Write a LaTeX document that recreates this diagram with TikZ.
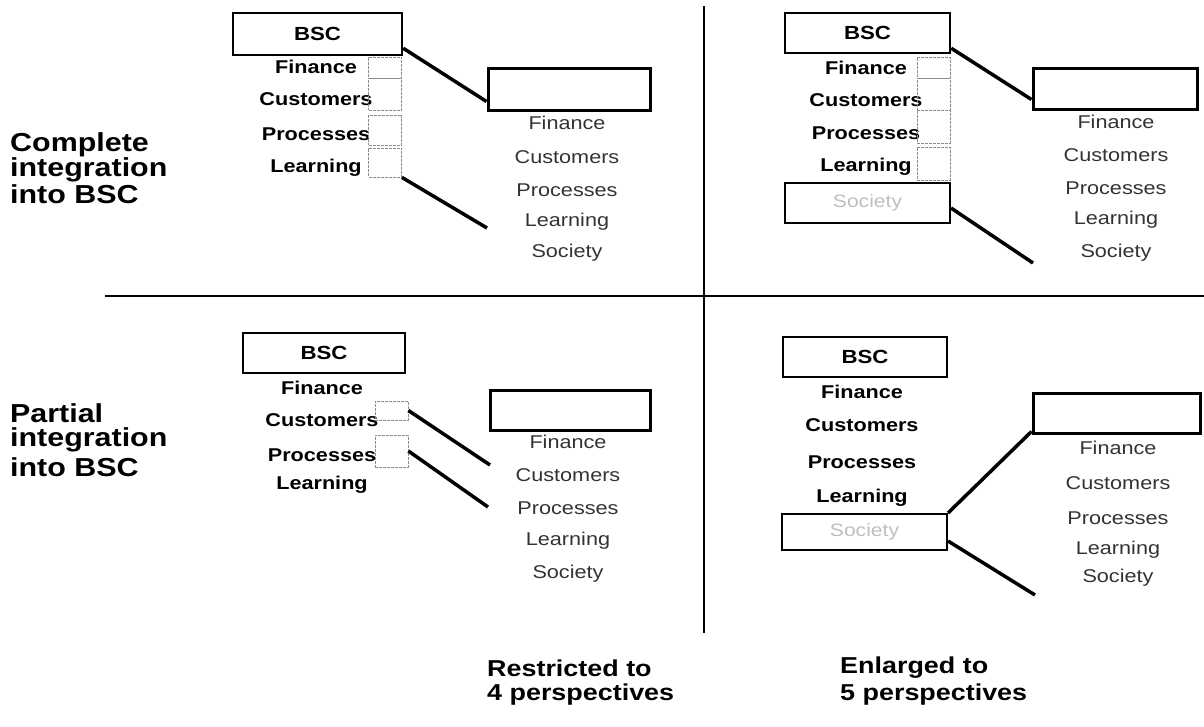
\documentclass[tikz,border=0pt]{standalone}
\usepackage{fontspec}
\setmainfont{Liberation Sans}
\newfontfamily\af[FakeStretch=1.17]{Liberation Sans}
\usetikzlibrary{calc}
\begin{document}
\begin{tikzpicture}[x=1pt,y=-1pt,
  lbl/.style={font=\af\bfseries\fontsize{26}{28}\selectfont, anchor=west, inner sep=0pt},
  botlbl/.style={font=\af\bfseries\fontsize{23}{25}\selectfont, anchor=west, inner sep=0pt},
  persp/.style={font=\af\bfseries\fontsize{18.5}{20}\selectfont, inner sep=0pt},
  rtxt/.style={font=\af\fontsize{18.5}{20}\selectfont, text=black!80, inner sep=0pt},
  bscbox/.style={draw, line width=2.5pt, fill=white, inner sep=0pt, font=\af\bfseries\fontsize{19}{20}\selectfont},
  socbox/.style={draw, line width=2pt, fill=white, inner sep=0pt, font=\af\fontsize{18}{20}\selectfont, text=black!25},
  bigbox/.style={draw, line width=3pt, fill=white, inner sep=0pt},
  smallbox/.style={draw=black!45, line width=0.8pt, dash pattern=on 3pt off 1pt, inner sep=0pt, minimum width=33pt},
  conn/.style={line width=3.5pt},
  divider/.style={line width=2pt}
]
\useasboundingbox (0,0) rectangle (1204,726);

% dividers
\draw[divider] (105,296) -- (1204,296);
\draw[divider] (704,6) -- (704,633);

% row labels
\node[lbl] (c1) at (10,145) {Complete};
\node[lbl] (c2) at (10,170) {integration};
\node[lbl] (c3) at (10,194) {into BSC};
\node[lbl] (p1) at (10,413) {Partial};
\node[lbl] (p2) at (10,440) {integration};
\node[lbl] (p3) at (10,467) {into BSC};

% column labels
\node[botlbl] (r1) at (487,668) {Restricted to};
\node[botlbl] (r2) at (487,695) {4 perspectives};
\node[botlbl] (n1) at (840,668) {Enlarged to};
\node[botlbl] (n2) at (840,695) {5 perspectives};

% ---------- top left ----------
\node[bscbox, minimum width=169pt, minimum height=42pt] (b1) at (317.5,34) {BSC};
\node[persp] (tlF) at (316,67) {Finance};
\node[persp] (tlC) at (316,99) {Customers};
\node[persp] (tlP) at (316,134) {Processes};
\node[persp] (tlL) at (316,168) {Learning};
\node[smallbox, minimum height=21pt] (s1F) at (385,67.5) {};
\node[smallbox, minimum height=32pt] (s1C) at (385,94) {};
\node[smallbox, minimum height=30pt] (s1P) at (385,130) {};
\node[smallbox, minimum height=29pt] (s1L) at (385,162.5) {};
\node[bigbox, minimum width=162pt, minimum height=42pt] (g1) at (569,89) {};
\node[rtxt] (t1a) at (567,123) {Finance};
\node[rtxt] (t1b) at (567,157) {Customers};
\node[rtxt] (t1c) at (567,190) {Processes};
\node[rtxt] (t1d) at (567,222) {Learning};
\node[rtxt] (t1e) at (567,253) {Society};
\coordinate (e1) at (487,228);
\draw[conn] ([yshift=8pt]b1.south east) -- ([yshift=10pt]g1.south west);
\draw[conn] (s1L.south east) -- (e1);

% ---------- top right ----------
\node[bscbox, minimum width=165pt, minimum height=40pt] (b2) at (867.5,33) {BSC};
\node[persp] (trF) at (866,68) {Finance};
\node[persp] (trC) at (866,100) {Customers};
\node[persp] (trP) at (866,133) {Processes};
\node[persp] (trL) at (866,167) {Learning};
\node[smallbox, minimum height=21pt] (s2F) at (933.5,67.5) {};
\node[smallbox, minimum height=32pt] (s2C) at (933.5,94) {};
\node[smallbox, minimum height=33pt] (s2P) at (933.5,126.5) {};
\node[smallbox, minimum height=33pt] (s2L) at (933.5,163.5) {};
\node[socbox, minimum width=165pt, minimum height=40pt] (soc2) at (867.5,203) {Society};
\node[bigbox, minimum width=164pt, minimum height=41pt] (g2) at (1115,88.5) {};
\node[rtxt] (t2a) at (1116,122) {Finance};
\node[rtxt] (t2b) at (1116,155) {Customers};
\node[rtxt] (t2c) at (1116,188) {Processes};
\node[rtxt] (t2d) at (1116,220) {Learning};
\node[rtxt] (t2e) at (1116,253) {Society};
\coordinate (e2) at (1033,263);
\draw[conn] ([yshift=6pt]b2.south east) -- ([yshift=11pt]g2.south west);
\draw[conn] ([yshift=-5pt]soc2.east) -- (e2);

% ---------- bottom left ----------
\node[bscbox, minimum width=162pt, minimum height=40pt] (b3) at (324,353) {BSC};
\node[persp] (blF) at (322,388) {Finance};
\node[persp] (blC) at (322,420) {Customers};
\node[persp] (blP) at (322,455) {Processes};
\node[persp] (blL) at (322,485) {Learning};
\node[smallbox, minimum height=19pt] (s3C) at (391.5,410.5) {};
\node[smallbox, minimum height=32pt] (s3P) at (391.5,451) {};
\node[bigbox, minimum width=160pt, minimum height=40pt] (g3) at (570,410) {};
\node[rtxt] (t3a) at (568,442) {Finance};
\node[rtxt] (t3b) at (568,475) {Customers};
\node[rtxt] (t3c) at (568,508) {Processes};
\node[rtxt] (t3d) at (568,541) {Learning};
\node[rtxt] (t3e) at (568,574) {Society};
\coordinate (e3a) at (490,465);
\coordinate (e3b) at (488,507);
\draw[conn] (s3C.east) -- (e3a);
\draw[conn] (s3P.east) -- (e3b);

% ---------- bottom right ----------
\node[bscbox, minimum width=164pt, minimum height=40pt] (b4) at (865,357) {BSC};
\node[persp] (brF) at (862,392) {Finance};
\node[persp] (brC) at (862,425) {Customers};
\node[persp] (brP) at (862,462) {Processes};
\node[persp] (brL) at (862,498) {Learning};
\node[socbox, minimum width=165pt, minimum height=36pt] (soc4) at (864.5,532) {Society};
\node[bigbox, minimum width=167pt, minimum height=40pt] (g4) at (1116.5,413) {};
\node[rtxt] (t4a) at (1118,448) {Finance};
\node[rtxt] (t4b) at (1118,483) {Customers};
\node[rtxt] (t4c) at (1118,518) {Processes};
\node[rtxt] (t4d) at (1118,550) {Learning};
\node[rtxt] (t4e) at (1118,578) {Society};
\coordinate (e4) at (1035,595);
\draw[conn] (soc4.north east) -- ([yshift=3pt]g4.south west);
\draw[conn] ([yshift=10pt]soc4.south east) -- (e4);
\end{tikzpicture}
\end{document}
